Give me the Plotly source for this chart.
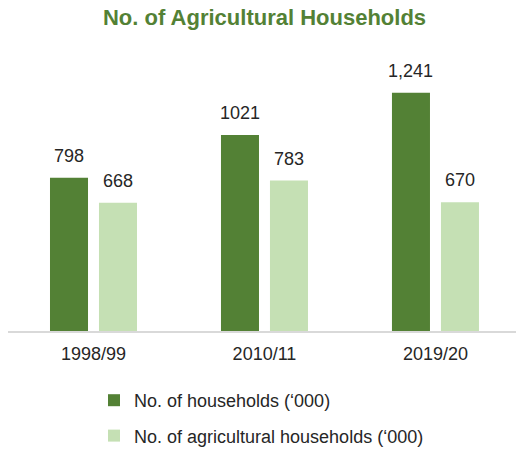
import plotly.graph_objects as go

periods = ["1998/99", "2010/11", "2019/20"]
households = [798, 1021, 1241]
agri_households = [668, 783, 670]
households_labels = ["798", "1021", "1,241"]
agri_labels = ["668", "783", "670"]

DARK = "#538135"
LIGHT = "#C5E0B4"
TEXT = "#262626"
FONT = "Liberation Sans, Arial, sans-serif"

fig = go.Figure()
fig.add_trace(go.Bar(x=periods, y=households, name="No. of households (‘000)",
                     marker=dict(color=DARK, line=dict(width=0)),
                     legendgroup="a", hoverinfo="skip"))
fig.add_trace(go.Bar(x=periods, y=agri_households,
                     name="No. of agricultural households (‘000)",
                     marker=dict(color=LIGHT, line=dict(width=0)),
                     legendgroup="b", hoverinfo="skip"))

# value labels above each bar
annotations = []
for vals, labels, shift in [(households, households_labels, -24.5),
                            (agri_households, agri_labels, 24.5)]:
    for p, v, t in zip(periods, vals, labels):
        annotations.append(dict(x=p, y=v, text=t, showarrow=False,
                                xref="x", yref="y", xshift=shift,
                                yanchor="middle", yshift=22,
                                font=dict(family=FONT, size=18, color=TEXT)))

fig.update_layout(
    width=516, height=451,
    margin=dict(l=8, r=0, t=50, b=120, autoexpand=False),
    paper_bgcolor="white", plot_bgcolor="white",
    barmode="group", bargap=0.427, bargroupgap=0.224,
    title=dict(text="<b>No. of Agricultural Households</b>",
               x=0.505, xanchor="center", xref="paper",
               y=1 - 17 / 451, yanchor="middle", yref="container",
               font=dict(family=FONT, size=22, color=DARK)),
    font=dict(family=FONT, size=18, color=TEXT),
    xaxis=dict(type="category", range=[-0.5, 2.471], showgrid=False,
               showline=True, linecolor="#D9D9D9", linewidth=1.5,
               ticks="", ticklabelstandoff=6,
               tickfont=dict(family=FONT, size=18, color=TEXT),
               fixedrange=True),
    yaxis=dict(range=[0, 1463], visible=False, showgrid=False,
               zeroline=False, fixedrange=True),
    showlegend=True,
    legend=dict(orientation="v", x=(94 - 8) / 508, xanchor="left",
                y=-51 / 281, yanchor="top",
                traceorder="grouped", tracegroupgap=9, itemwidth=30,
                font=dict(family=FONT, size=18, color=TEXT),
                bgcolor="rgba(0,0,0,0)"),
    annotations=annotations,
)

fig.write_html("out.html")
